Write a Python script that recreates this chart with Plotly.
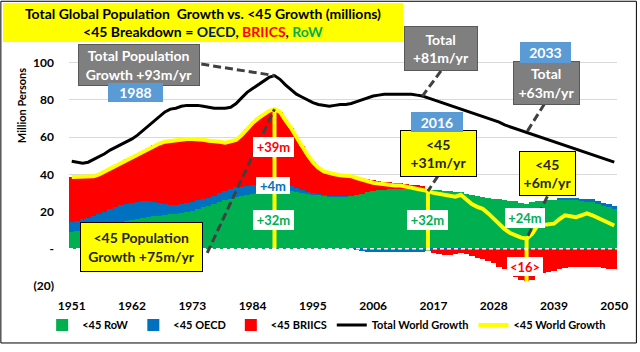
import plotly.graph_objects as go

# ---------------- data (millions of persons per year) ----------------
years = list(range(1951, 2051))

total_world = [
    47, 46.5, 46, 46.5, 48, 49.5, 51, 53, 54.5, 56,
    57.5, 59, 61, 63.5, 66, 69, 71.5, 73.5, 75, 75.5,
    76.5, 77, 77, 77, 76.5, 76, 75.5, 75.5, 75.5, 76,
    78, 81, 84, 86, 88, 90, 92, 93, 91, 88,
    85.5, 83, 81.5, 80, 78.5, 77.5, 77, 76.5, 77, 77.5,
    77.5, 78, 79, 80, 81, 82, 82.5, 83, 83, 83,
    83, 83, 83, 82.5, 82, 81, 80, 79, 78, 77,
    76, 75, 74, 73, 72, 71, 70, 69, 68, 66.5,
    65.5, 64.5, 63.5, 62.5, 61.5, 60.5, 59.5, 58.5, 57.5, 56.5,
    55.5, 54.5, 53.5, 52.5, 51.5, 50.5, 49.5, 48.5, 47.5, 46.5,
]

lt45_world = [
    38.5, 38.5, 38.5, 38.5, 39, 40, 41.5, 43, 44.5, 46,
    48, 49.5, 50.5, 52, 54, 55.5, 56.5, 57.5, 58, 58.5,
    59, 59, 59, 59, 58.5, 58, 58, 57.5, 57, 57.5,
    58.5, 61, 64.5, 67.5, 70, 72, 74, 75, 73.5, 69,
    65, 60, 55, 50.5, 46.5, 43.5, 41.5, 40.5, 40, 39.5,
    39.5, 39, 38, 37, 36, 35.5, 35, 34.5, 34.5, 34,
    34, 33.5, 33, 32.5, 32, 31, 30, 29.5, 28.5, 28,
    28, 29, 26.5, 24, 22.5, 21.5, 19, 16, 13, 10.5,
    8.5, 7, 6, 5.5, 8, 12.5, 13, 13.5, 13.5, 16,
    18, 17.5, 17, 18, 19, 18, 16.5, 15, 13.5, 12.5,
]

lt45_row = [
    9, 9.5, 10, 10.5, 11.5, 12, 12.5, 13.5, 14, 14.5,
    15, 15.5, 16, 16.5, 17, 17.5, 17.5, 18, 18.5, 18.5,
    19, 19.5, 20.5, 21.5, 22.5, 23, 24, 25, 26, 27,
    28, 28.5, 29, 29.5, 30, 30.5, 31, 32, 32, 31.5,
    31, 30.5, 30, 29.5, 29, 29, 28.5, 28, 28, 28,
    28, 28.5, 29, 29.5, 30.5, 31, 31.5, 31.5, 32, 32,
    32, 32, 31.5, 31.5, 31, 32, 31.5, 31.5, 31, 31,
    30.5, 30.5, 29.5, 29, 28.5, 28, 27.5, 27, 26.5, 26,
    25.5, 25.5, 24.5, 24, 25, 25.5, 25.5, 26, 26, 26.5,
    26.5, 26.5, 26.5, 26, 25.5, 25, 24, 23, 22.5, 21.5,
]

lt45_oecd = [
    5.5, 5.5, 6, 6, 6, 6.5, 7.5, 8, 8.5, 9,
    9, 9, 9, 9, 8.5, 7.5, 7, 6, 5, 5,
    5, 5, 4.5, 4.5, 4.5, 4.5, 4.5, 5, 5, 5,
    5, 4.5, 4.5, 4.5, 4.5, 4, 4, 4, 3.5, 3,
    2.5, 2, 1.5, 1, 1, 0.5, 0.5, 0.5, 0.5, 0.5,
    0.5, 0, -0.5, -1, -1.5, -1.5, -1.5, -1.5, -1.5, -1.5,
    -1.5, -1.5, -1.5, -1.5, -1.5, -1, -0.5, -0.5, -0.5, -0.5,
    -0.5, -0.5, 0, 0, 0, 0, 0, 0, 0, 0,
    0, 0, 0, 0, 0, 0, 0, 0, 0, 0.5,
    0.5, 0.5, 0.5, 1, 1, 1.5, 1.5, 1.5, 1.5, 1.5,
]

lt45_briics = [
    24, 23.5, 22.5, 22, 21.5, 21.5, 21.5, 21.5, 22, 22.5,
    24, 25, 25.5, 26.5, 28.5, 30.5, 32, 33.5, 34.5, 35,
    35, 34.5, 34, 33, 31.5, 30.5, 29.5, 27.5, 26, 25.5,
    25.5, 28, 31, 33.5, 35.5, 37.5, 39, 39, 38, 34.5,
    31.5, 27.5, 23.5, 20, 16.5, 14, 12.5, 12, 11.5, 11,
    11, 10.5, 9.5, 8.5, 7, 6, 5, 4.5, 4, 3.5,
    3.5, 3, 3, 2.5, 2.5, 0, -1.5, -2.5, -3, -3,
    -2.5, -2, -3, -4, -5, -5.5, -6.5, -7.5, -9.5, -11,
    -12.5, -15, -16.5, -17.5, -16.5, -14, -13, -12.5, -12, -11,
    -10.5, -10, -10, -10, -10, -10, -10, -10.5, -11, -11,
]

tick_years = [1951, 1962, 1973, 1984, 1995, 2006, 2017, 2028, 2039, 2050]
y_tick_vals = [-20, 0, 20, 40, 60, 80, 100]
y_tick_text = ["(20)", "-", "20", "40", "60", "80", "100"]
highlight_years = [1988, 2016, 2034]

# ---------------- layout geometry helpers ----------------
FONT = "Lato, Carlito, Calibri, sans-serif"
W, H = 640, 352
PL, PR, PT, PB = 69, 20, 29, 58
XR = [1950.5, 2050.5]
YR = [-20.5, 118]
pw = W - PL - PR
ph = H - PT - PB


def xd(px):
    return XR[0] + (px - PL) / pw * (XR[1] - XR[0])


def yd(py):
    return YR[1] - (py - PT) / ph * (YR[1] - YR[0])


def xp(px):
    return (px - PL) / pw


def yp(py):
    return (H - PB - py) / ph


GREEN, BLUE, RED = "#00b050", "#0070c0", "#ff0000"
YELLOW, BLACK = "#ffff00", "#000000"
GRAY_BOX, BLUE_BOX = "#7f7f7f", "#5b9bd5"

fig = go.Figure()

fig.add_trace(go.Bar(x=years, y=lt45_row, name="<45 RoW", marker=dict(color=GREEN, line=dict(width=0))))
fig.add_trace(go.Bar(x=years, y=lt45_oecd, name="<45 OECD", marker=dict(color=BLUE, line=dict(width=0))))
fig.add_trace(go.Bar(x=years, y=lt45_briics, name="<45 BRIICS", marker=dict(color=RED, line=dict(width=0))))
fig.add_trace(go.Scatter(x=years, y=total_world, name="Total World Growth", mode="lines",
                         line=dict(color=BLACK, width=3)))
fig.add_trace(go.Scatter(x=years, y=lt45_world, name="<45 World Growth", mode="lines",
                         line=dict(color=YELLOW, width=4)))

# vertical highlight lines at selected years
for yr in highlight_years:
    i = years.index(yr)
    lo = min(0, min(0, lt45_oecd[i]) + min(0, lt45_briics[i]))
    hi = lt45_world[i]
    fig.add_trace(go.Scatter(x=[yr, yr], y=[lo, hi], mode="lines", showlegend=False,
                             line=dict(color=YELLOW, width=4), hoverinfo="skip"))

# white dashed zero line
fig.add_shape(type="line", xref="x", yref="y", x0=XR[0], x1=XR[1], y0=0, y1=0,
              line=dict(color="white", width=1.5, dash="4px,3px"), layer="above")

# dashed connector lines from callouts to data points
DASH = dict(color="#404040", width=3, dash="8px,4px")
i88 = years.index(1988)
i16 = years.index(2016)
i15 = years.index(2015)
i34 = years.index(2034)
connectors = [
    (xd(202), yd(65), 1988, total_world[i88]),
    (xd(208), yd(259), 1988, lt45_world[i88]),
    (xd(443), yd(72), 2015, total_world[i15]),
    (xd(440), yd(180), 2016, lt45_world[i16]),
    (xd(547), yd(106), 2034, total_world[i34]),
    (xd(550), yd(201), 2034, lt45_world[i34]),
]
for x0, y0, x1, y1 in connectors:
    fig.add_shape(type="line", xref="x", yref="y", x0=x0, y0=y0, x1=x1, y1=y1, line=DASH, layer="above")


def box(cx, cy, w, h, text, bg, fg, border=None, size=13):
    fig.add_annotation(x=xd(cx), y=yd(cy), xref="x", yref="y", text=text, showarrow=False,
                       width=w - 2, height=h - 2, bgcolor=bg, bordercolor=border or bg,
                       borderwidth=1, borderpad=0, align="center", valign="middle",
                       xanchor="center", yanchor="middle",
                       font=dict(family=FONT, size=size, color=fg, weight="bold"))


# callout boxes
box(139, 66, 122, 42, "Total Population<br>Growth +93m/yr", GRAY_BOX, "white", "#595959", 14)
box(135.5, 94, 55, 19, "1988", BLUE_BOX, "white", BLUE_BOX, 14)
box(141.5, 253, 123, 50, "&lt;45 Population<br>Growth +75m/yr", YELLOW, "#262626", "#000000", 14)
box(443, 49.5, 74, 45, "Total<br>+81m/yr", GRAY_BOX, "white", "#595959", 14)
box(440.5, 156.5, 77, 47, "&lt;45<br>+31m/yr", YELLOW, "#262626", "#000000", 14)
box(439, 125, 52, 20, "2016", BLUE_BOX, "white", BLUE_BOX, 14)
box(549.5, 84, 67, 44, "Total<br>+63m/yr", GRAY_BOX, "white", "#595959", 14)
box(548.5, 53.5, 51, 21, "2033", BLUE_BOX, "white", BLUE_BOX, 14)
box(550.5, 177.5, 57, 45, "&lt;45<br>+6m/yr", YELLOW, "#262626", "#000000", 14)

# value labels on the highlight lines
box(274.5, 150, 41, 20, "+39m", "white", RED, "white", 13)
box(274.5, 190, 34, 17, "+4m", "white", BLUE, "white", 13)
box(274.5, 225, 41, 20, "+32m", "white", GREEN, "white", 13)
box(429, 225, 41, 20, "+32m", "white", GREEN, "white", 13)
box(527, 223, 40, 20, "+24m", "white", GREEN, "white", 13)
box(527, 273, 36, 19, "&lt;16&gt;", "white", RED, "white", 13)

# title box
fig.add_annotation(
    xref="paper", yref="paper", x=xp(204), y=yp(22.5), xanchor="center", yanchor="middle",
    text=("Total Global Population  Growth vs. &lt;45 Growth (millions)<br>"
          "&lt;45 Breakdown = <span style='color:#002060'>OECD</span>, "
          "<span style='color:#ff0000'>BRIICS</span>, <span style='color:#00b050'>RoW</span>"),
    showarrow=False, width=400, height=39, bgcolor=YELLOW, borderpad=0, borderwidth=0,
    align="center", valign="middle",
    font=dict(family=FONT, size=14, color="black", weight="bold"))

# y-axis title
fig.add_annotation(xref="paper", yref="paper", x=xp(22), y=yp(108), text="Million Persons",
                   textangle=-90, showarrow=False, xanchor="center", yanchor="middle",
                   font=dict(family=FONT, size=11, color="black", weight="bold"))

# outer frame
fig.add_shape(type="rect", xref="paper", yref="paper",
              x0=xp(0.5), x1=xp(W - 0.5), y0=yp(H - 0.5), y1=yp(0.5),
              line=dict(color="black", width=1), layer="above")

fig.update_layout(
    width=W, height=H,
    margin=dict(l=PL, r=PR, t=PT, b=PB, pad=0),
    barmode="relative", bargap=0,
    plot_bgcolor="white", paper_bgcolor="white",
    font=dict(family=FONT, size=12, color="black"),
    showlegend=True,
    legend=dict(orientation="h", x=xp(42), y=yp(333), xanchor="left", yanchor="middle",
                traceorder="normal", font=dict(family=FONT, size=11, color="black", weight="bold"),
                bgcolor="rgba(0,0,0,0)", itemwidth=30),
    xaxis=dict(range=XR, tickmode="array", tickvals=tick_years, ticktext=[str(t) for t in tick_years],
               showgrid=False, zeroline=False, showline=False, ticks="",
               tickfont=dict(family=FONT, size=12, color="black", weight="bold"),
               ticklabelstandoff=10),
    yaxis=dict(range=YR, tickmode="array", tickvals=y_tick_vals, ticktext=y_tick_text,
               showgrid=True, gridcolor="#d9d9d9", gridwidth=1, zeroline=False, showline=False,
               ticks="", tickfont=dict(family=FONT, size=12, color="black", weight="bold"),
               ticklabelstandoff=14),
)

fig.write_html("out.html")
